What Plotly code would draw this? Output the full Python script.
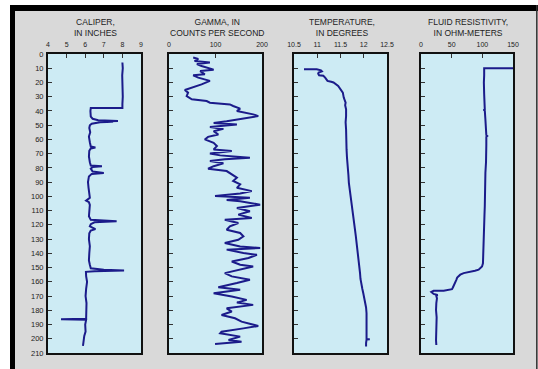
import plotly.graph_objects as go

W, H = 538, 369

# ---------------- data ----------------
caliper_depth = [6, 10, 15, 20, 25, 30, 35, 38, 38, 40,
                 44, 45.5, 46.5, 47, 47.3, 47.6, 48, 48.5, 49, 50,
                 52, 55, 58, 62, 65, 65.6, 66.3, 68, 72, 76,
                 78.3, 78.8, 79.4, 80.5, 82.5, 83.5, 84.2, 86, 90, 94,
                 98, 101, 103, 104, 106, 110, 114, 116.5, 117.5, 118.2,
                 119.5, 121, 123, 124, 126, 130, 135, 140, 145, 148,
                 150.5, 151.5, 152, 152.6, 153, 156, 160, 165, 170, 175,
                 180, 184, 186, 186.3, 186.7, 190, 195, 198, 200, 203, 205]
caliper_in = [8.0, 8.02, 7.99, 8.01, 8.0, 8.02, 8.0, 8.0, 6.3, 6.28,
              6.3, 6.4, 6.7, 7.76, 7.2, 7.5, 6.8, 6.5, 6.35, 6.25,
              6.22, 6.27, 6.2, 6.25, 6.3, 6.55, 6.3, 6.22, 6.2, 6.25,
              6.3, 6.9, 6.4, 6.3, 6.4, 7.0, 6.35, 6.2, 6.15, 6.18,
              6.2, 6.25, 6.05, 6.2, 6.25, 6.22, 6.2, 6.3, 7.69, 6.5,
              6.3, 6.25, 6.55, 6.3, 6.22, 6.2, 6.25, 6.22, 6.2, 6.25,
              6.3, 7.0, 8.09, 6.5, 6.04, 6.05, 6.1, 6.05, 6.02, 6.07,
              6.05, 6.03, 6.05, 4.7, 6.05, 6.0, 6.02, 5.95, 5.92, 5.9, 5.88]

gamma_depth = [2.5, 3.5, 5, 6, 7, 8.4, 11, 12, 14.2, 15,
               16.6, 18.9, 21.3, 23.6, 25.3, 27.1, 29.5, 31.8, 33, 34.2,
               35.4, 36.5, 38.4, 40, 41, 42.4, 43.6, 44.8, 46, 47.2,
               48.4, 49.5, 51.2, 52.6, 54.2, 56.5, 58.2, 60, 62.4, 64.7,
               67, 68.2, 69.9, 71.2, 72.9, 74, 75.2, 76.8, 78.8, 80.6,
               82.2, 84.6, 86.9, 89.2, 91.6, 94, 96.3, 97.9, 99.8, 101,
               102.6, 103.4, 105.8, 108.1, 110.5, 112.8, 115.2, 116.4, 118.7, 121.1,
               123.4, 125.7, 128.1, 130.5, 132.8, 135.2, 136.3, 137.4, 139.8, 141,
               143.3, 145.7, 148, 149.2, 151.5, 153.9, 156.2, 158.6, 160.9, 163.8,
               165.6, 168, 170.3, 172.7, 174.6, 176.2, 178.6, 180.9, 183.3, 185.6,
               188, 191, 192.7, 195, 196.2, 198.5, 200.9, 202.1, 203.7]
gamma_cps = [52, 63, 55, 88, 60, 70, 96, 67, 77, 52,
             63, 88, 70, 49, 34, 41, 38, 49, 81, 88,
             131, 138, 153, 146, 163, 181, 192, 171, 146, 124,
             96, 146, 88, 117, 96, 106, 84, 77, 96, 103,
             96, 135, 88, 110, 174, 120, 88, 117, 96, 84,
             124, 135, 146, 138, 153, 146, 178, 153, 99, 174,
             124, 153, 196, 146, 174, 149, 178, 120, 149, 131,
             124, 153, 160, 149, 120, 153, 196, 124, 160, 189,
             171, 135, 153, 181, 153, 120, 135, 174, 146, 106,
             153, 96, 135, 167, 146, 181, 124, 135, 113, 142,
             156, 192, 160, 113, 110, 153, 128, 156, 99]

temp_depth = [10.7, 10.7, 11.5, 12.2, 13, 13.8, 14.9, 15.3, 16.6, 18.9,
              19.5, 20, 22.4, 24.8, 27.1, 30.6, 34.2, 36, 38.9, 43.6,
              48, 53, 57.6, 62, 67, 73, 78.8, 85, 90.5, 95,
              99.8, 105, 109.3, 114, 118.7, 123, 128.1, 133, 137.4, 142,
              146.8, 150, 153.9, 158, 163.3, 165, 168, 171, 175, 178,
              182.1, 186, 189.1, 195, 200.4, 200.4, 200.6, 203, 205.5]
temp_deg = [10.715, 10.99, 11.08, 11.1, 11.03, 11.02, 11.04, 11.13, 11.17, 11.22,
            11.3, 11.35, 11.45, 11.51, 11.55, 11.57, 11.61, 11.6, 11.62, 11.62,
            11.61, 11.62, 11.62, 11.62, 11.63, 11.64, 11.66, 11.67, 11.68, 11.7,
            11.72, 11.74, 11.76, 11.78, 11.8, 11.81, 11.83, 11.85, 11.86, 11.88,
            11.9, 11.91, 11.92, 11.93, 11.95, 11.97, 11.99, 12.01, 12.03, 12.05,
            12.06, 12.06, 12.06, 12.06, 12.06, 12.13, 12.06, 12.05, 12.05]

res_depth = [10, 10, 15, 20, 28.3, 33, 38.9, 39.3, 39.7, 46,
             52, 57, 57.6, 58.2, 64, 69.4, 76, 83.5, 90, 95.2,
             101, 107, 113, 118.7, 128, 137.4, 141, 144.5, 147, 149.2,
             151, 151.5, 152.2, 152.7, 153.9, 155, 155.8, 157, 158.6, 160.5,
             162.2, 164, 165.2, 165.8, 166.2, 166.3, 167.1, 168.5, 169.3, 170,
             171.6, 175, 179.8, 185, 189.1, 194, 198.5, 201, 204.4]
res_ohmm = [160, 103, 103, 102.5, 103, 103.5, 104, 102, 104, 105,
            106, 106.5, 108, 106.5, 106.5, 106.5, 106, 105, 105, 105,
            104.5, 104, 103.5, 103, 102.5, 102, 101.8, 101.6, 101, 99.5,
            96, 94, 88, 80.4, 69.6, 64, 61.4, 59, 57.6, 56,
            54.3, 52, 50.5, 45, 37, 20.6, 16.8, 20.6, 27, 25,
            26, 25, 24.5, 25.5, 25, 24.5, 24, 24.5, 25]

titles = ["CALIPER,<br>IN INCHES",
          "GAMMA, IN<br>COUNTS PER SECOND",
          "TEMPERATURE,<br>IN DEGREES",
          "FLUID RESISTIVITY,<br>IN OHM-METERS"]
x_ranges = [[4, 9], [0, 200], [10.5, 12.5], [0, 150]]
x_ticks = [[4, 5, 6, 7, 8, 9], [0, 100, 200], [10.5, 11, 11.5, 12, 12.5], [0, 50, 100, 150]]
x_ticktext = [["4", "5", "6", "7", "8", "9"], ["0", "100", "200"],
              ["10.5", "11", "11.5", "12", "12.5"], ["0", "50", "100", "150"]]
depth_ticks = list(range(0, 211, 10))

series = [(caliper_in, caliper_depth), (gamma_cps, gamma_depth),
          (temp_deg, temp_depth), (res_ohmm, res_depth)]

# ---------------- layout geometry (pixels) ----------------
panel_px = [(48, 141), (169, 262), (294, 387), (421, 513)]
top_px, bot_px = 54, 353

def fx(p):
    return p / W

def fy(p):
    return 1 - p / H

LINE = "#1b1b8a"
FONT = "Liberation Sans, Arial, sans-serif"

fig = go.Figure()
layout = dict(
    width=W, height=H, autosize=False,
    margin=dict(l=0, r=0, t=0, b=0, pad=0),
    paper_bgcolor="#d9d9d9", plot_bgcolor="#cdebf4",
    showlegend=False,
    font=dict(family=FONT, size=8, color="#222222"),
)

annotations = []
for i, ((xs, ys), (x0, x1)) in enumerate(zip(series, panel_px)):
    n = "" if i == 0 else str(i + 1)
    fig.add_trace(go.Scatter(x=xs, y=ys, mode="lines",
                             line=dict(color=LINE, width=2),
                             xaxis="x" + n, yaxis="y" + n,
                             hoverinfo="skip"))
    layout["xaxis" + n] = dict(
        domain=[fx(x0), fx(x1)], range=x_ranges[i], side="top",
        anchor="y" + n, tickmode="array", tickvals=x_ticks[i],
        ticktext=x_ticktext[i], ticks="inside", ticklen=4, tickwidth=1,
        tickcolor="#333333", showgrid=False, zeroline=False,
        showline=True, mirror=True, linecolor="#111111", linewidth=2,
        tickfont=dict(size=7, family=FONT, color="#222222"),
        ticklabelstandoff=2, automargin=False,
        fixedrange=True,
    )
    layout["yaxis" + n] = dict(
        domain=[fy(bot_px), fy(top_px)], range=[210, 0],
        anchor="x" + n, tickmode="array", tickvals=depth_ticks,
        ticks="inside", ticklen=4, tickwidth=1, tickcolor="#333333",
        showticklabels=(i == 0), showgrid=False, zeroline=False,
        showline=True, mirror=True, linecolor="#111111", linewidth=2,
        tickfont=dict(size=7.5, family=FONT, color="#222222"),
        ticklabelstandoff=1, automargin=False,
        fixedrange=True,
    )
    cx = (x0 + x1) / 2 + 1
    annotations.append(dict(
        text=titles[i], x=fx(cx), y=fy(28), xref="paper", yref="paper",
        xanchor="center", yanchor="middle", showarrow=False,
        font=dict(size=8.5, family=FONT, color="#222222"),
    ))

shapes = [
    # white outside the frame
    dict(type="rect", xref="paper", yref="paper", x0=0, x1=1, y0=fy(5), y1=1,
         fillcolor="white", line=dict(width=0), layer="above"),
    dict(type="rect", xref="paper", yref="paper", x0=0, x1=fx(10), y0=0, y1=1,
         fillcolor="white", line=dict(width=0), layer="above"),
    # black frame bands
    dict(type="rect", xref="paper", yref="paper", x0=fx(10), x1=1, y0=fy(11), y1=fy(5),
         fillcolor="black", line=dict(width=0), layer="above"),
    dict(type="rect", xref="paper", yref="paper", x0=fx(10), x1=fx(15), y0=0, y1=fy(5),
         fillcolor="black", line=dict(width=0), layer="above"),
    dict(type="line", xref="paper", yref="paper", x0=fx(536.8), x1=fx(536.8), y0=0, y1=fy(5),
         line=dict(color="#333333", width=1.5), layer="above"),
]
layout["annotations"] = annotations
layout["shapes"] = shapes
fig.update_layout(**layout)

fig.write_html("out.html", config={"displayModeBar": False, "staticPlot": True})

with open("out.html", "r", encoding="utf-8") as f:
    html = f.read()
html = html.replace("<body>", '<body style="margin:0;padding:0;overflow:hidden;background:#d9d9d9">', 1)
with open("out.html", "w", encoding="utf-8") as f:
    f.write(html)
